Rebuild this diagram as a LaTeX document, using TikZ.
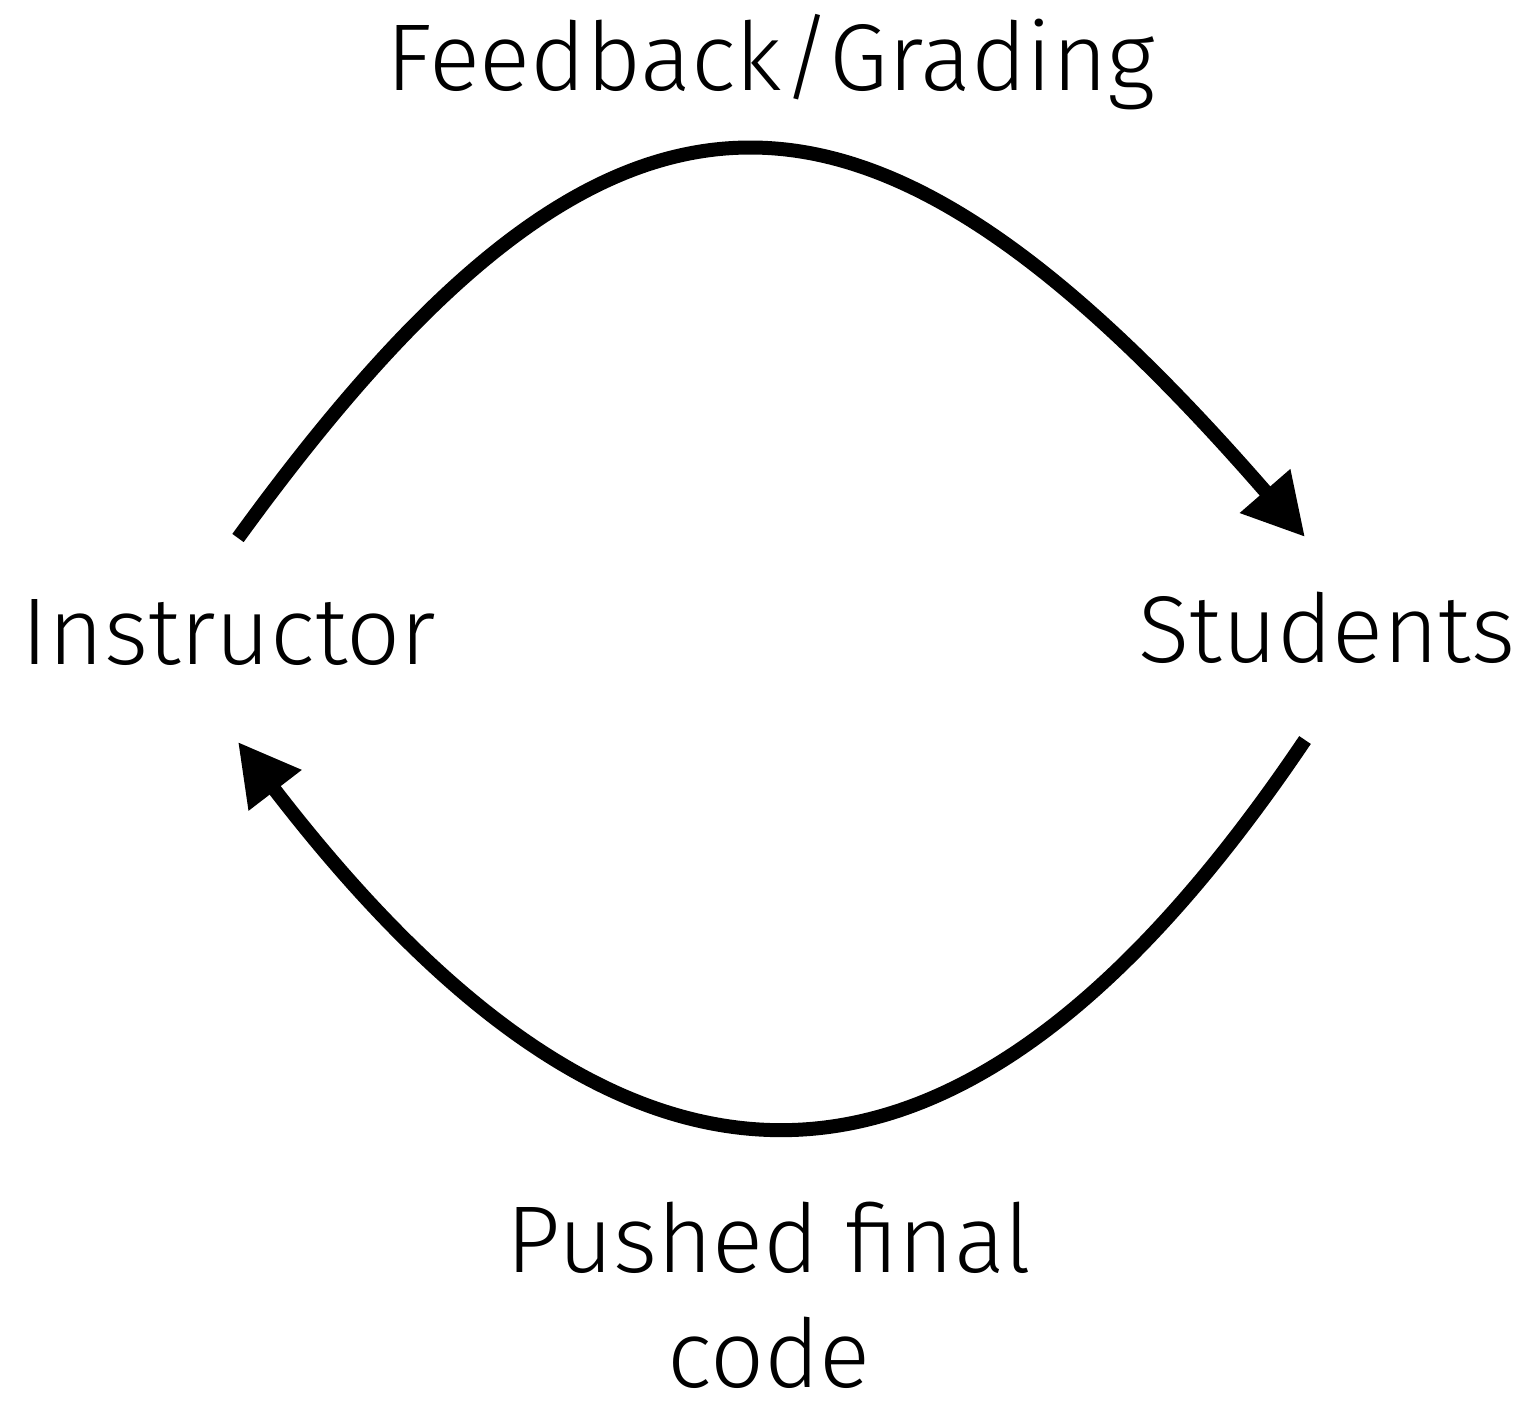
\documentclass[tikz,border=0pt]{standalone}
\usepackage{fontspec}
\setmainfont{Fira Sans}[UprightFont=* Light]
\usetikzlibrary{arrows.meta}
\tikzset{
  lbl/.style={inner sep=0pt, font=\fontsize{54}{115pt}\selectfont, align=center},
  flow/.style={line width=0.28cm, -{Triangle[length=1.22cm,width=1.26cm]}}
}
\begin{document}
\begin{tikzpicture}[x=0.02cm,y=-0.02cm]
\useasboundingbox (0,0) rectangle (1528,1402);
\node[lbl, anchor=base] (fb) at (771,91) {Feedback/Grading};
\node[lbl, anchor=base] (ins) at (229,664) {Instructor};
\node[lbl, anchor=base] (stu) at (1327,662) {Students};
\node[lbl, anchor=base, font=\fontsize{54}{65}\selectfont] (pf) at (769,1387) {Pushed final\\code};
\coordinate (ins-top) at (238,538);
\coordinate (stu-top) at (1305,537);
\coordinate (stu-bot) at (1305,740);
\coordinate (ins-bot) at (238,742);
\draw[flow] (ins-top) .. controls (610,25) and (860,25) .. (stu-top);
\draw[flow] (stu-bot) .. controls (960,1252) and (630,1252) .. (ins-bot);
\end{tikzpicture}
\end{document}
